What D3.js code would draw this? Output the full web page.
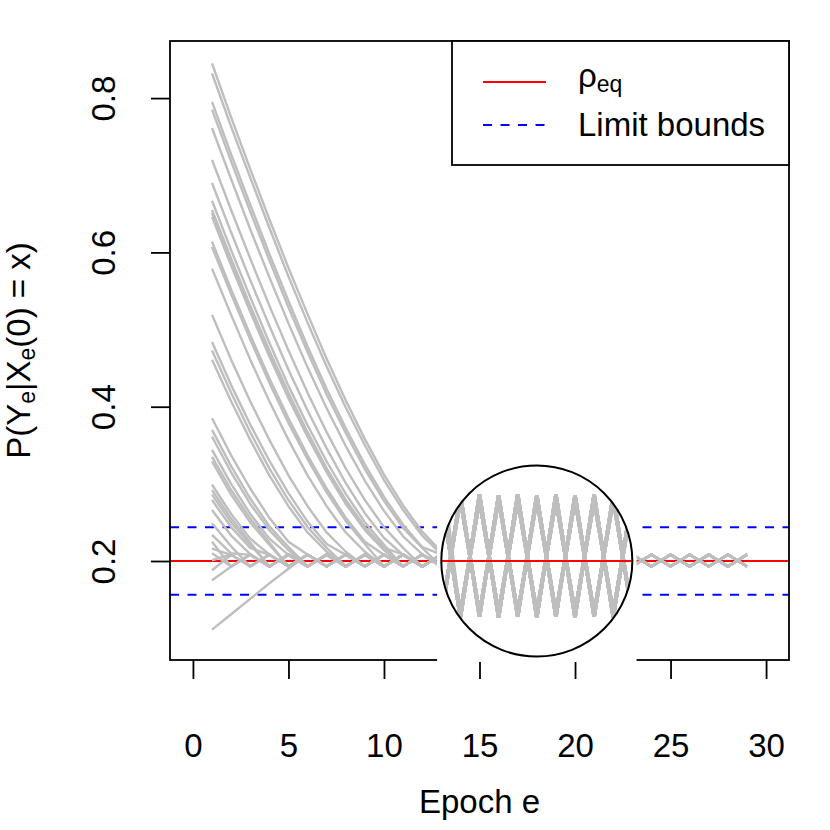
<!DOCTYPE html>
<html>
<head>
<meta charset="utf-8">
<script src="https://d3js.org/d3.v7.min.js"></script>
<style>
  body { margin: 0; background: #fff; }
  text { font-family: "Liberation Sans", Arial, Helvetica, sans-serif; }
</style>
</head>
<body>
<script>
// epochs along the x axis
var epochs = [1,2,3,4,5,6,7,8,9,10,11,12,13,14,15,16,17,18,19,20,21,22,23,24,25,26,27,28,29];

// each curve until it settles near rho_eq (epoch 1 onwards)
var heads = [
  [0.845,0.775,0.708,0.643,0.580,0.520,0.462,0.408,0.358,0.312,0.272,0.238,0.212],
  [0.832,0.763,0.697,0.632,0.569,0.509,0.452,0.399,0.350,0.305,0.266,0.233,0.209],
  [0.795,0.727,0.662,0.598,0.537,0.478,0.423,0.372,0.325,0.283,0.247,0.218],
  [0.785,0.718,0.653,0.590,0.529,0.471,0.416,0.366,0.319,0.278,0.243,0.217],
  [0.761,0.695,0.630,0.568,0.508,0.451,0.398,0.349,0.304,0.265,0.232,0.209],
  [0.720,0.655,0.592,0.531,0.473,0.418,0.367,0.320,0.279,0.244,0.217],
  [0.690,0.626,0.564,0.505,0.448,0.395,0.346,0.301,0.262,0.230,0.208],
  [0.667,0.603,0.542,0.483,0.427,0.376,0.329,0.287,0.250,0.221],
  [0.655,0.592,0.531,0.473,0.418,0.367,0.320,0.279,0.244,0.217],
  [0.651,0.588,0.528,0.470,0.415,0.365,0.319,0.278,0.243,0.217],
  [0.646,0.583,0.523,0.465,0.411,0.361,0.315,0.274,0.240,0.214],
  [0.614,0.552,0.493,0.437,0.385,0.337,0.294,0.256,0.225],
  [0.607,0.546,0.487,0.431,0.379,0.332,0.289,0.252,0.222],
  [0.579,0.519,0.461,0.407,0.357,0.311,0.271,0.237,0.212],
  [0.519,0.461,0.407,0.357,0.311,0.271,0.237,0.212],
  [0.484,0.428,0.377,0.330,0.288,0.251,0.222],
  [0.473,0.418,0.367,0.320,0.279,0.244,0.217],
  [0.461,0.407,0.357,0.311,0.271,0.237,0.212],
  [0.385,0.337,0.294,0.256,0.225],
  [0.370,0.323,0.281,0.245,0.218],
  [0.361,0.315,0.274,0.240,0.214],
  [0.344,0.300,0.261,0.229],
  [0.335,0.292,0.255,0.224],
  [0.329,0.286,0.250,0.221],
  [0.299,0.261,0.229],
  [0.292,0.255,0.224],
  [0.286,0.250,0.221],
  [0.279,0.244,0.217],
  [0.266,0.233,0.209],
  [0.249,0.219],
  [0.234,0.210],
  [0.225],
  [0.216],
  [0.210],
  [0.201],
  [0.188],
  [0.175],
  [0.111,0.131,0.151,0.171,0.190]
];

// which oscillation each curve falls into afterwards
var tailKeys = ["B1","B2","B1","A1","A2","B1","B2","A1","B1","A2","A1","A2","B2","B1","A1","A2","B2","B1","A1",
                "B2","B1","B2","A1","A2","A1","B1","B2","A2","B1","A1","B2","B1","A2","B2","A1","A2","B1","A1"];

// settled oscillations, value per epoch 1..29
var oscA1 = [0.1928,0.2085,0.1928,0.2085,0.1928,0.2085,0.1928,0.2085,0.1928,0.2085,0.1928,0.2085,0.1928,0.2085,0.1928,
             0.2085,0.1928,0.2085,0.1928,0.2085,0.1928,0.2085,0.1928,0.2085,0.1928,0.2085,0.1928,0.2085,0.1928];
var oscA2 = [0.1932,0.2080,0.1932,0.2080,0.1932,0.2080,0.1932,0.2080,0.1932,0.2080,0.1932,0.2080,0.1932,0.2080,0.1932,
             0.2080,0.1932,0.2080,0.1932,0.2080,0.1932,0.2080,0.1932,0.2080,0.1932,0.2080,0.1932,0.2080,0.1932];
var oscB1 = [0.2086,0.1927,0.2086,0.1927,0.2086,0.1927,0.2086,0.1927,0.2086,0.1927,0.2086,0.1927,0.2086,0.1927,0.2086,
             0.1927,0.2086,0.1927,0.2086,0.1927,0.2086,0.1927,0.2086,0.1927,0.2086,0.1927,0.2086,0.1927,0.2086];
var oscB2 = [0.2079,0.1933,0.2079,0.1933,0.2079,0.1933,0.2079,0.1933,0.2079,0.1933,0.2079,0.1933,0.2079,0.1933,0.2079,
             0.1933,0.2079,0.1933,0.2079,0.1933,0.2079,0.1933,0.2079,0.1933,0.2079,0.1933,0.2079,0.1933,0.2079];

var rhoEq = 0.2;
var limitBounds = [0.1563, 0.2437];
var xTicks = [0, 5, 10, 15, 20, 25, 30];
var yTicks = [0.2, 0.4, 0.6, 0.8];

// magnifier: centre epoch, radius in epochs, vertical zoom
var zoomCenter = 18, zoomRadius = 5, zoomFactor = 10;

var tails = {A1: oscA1, A2: oscA2, B1: oscB1, B2: oscB2};
var curves = heads.map(function (h, i) {
  var vals = h.concat(tails[tailKeys[i]].slice(h.length));
  return epochs.map(function (e, j) { return {e: e, v: vals[j]}; });
});

var W = 830, H = 830;
var pL = 170, pR = 789, pT = 41, pB = 660;
var fs = 33;

var x = d3.scaleLinear().domain([-1.2, 31.2]).range([pL, pR]);
var y = d3.scaleLinear().domain([0.0717, 0.874]).range([pB, pT]);

var svg = d3.select("body").append("svg")
    .attr("width", W).attr("height", H);
var defs = svg.append("defs");
defs.append("clipPath").attr("id", "plotClip")
  .append("rect").attr("x", pL).attr("y", pT)
  .attr("width", pR - pL).attr("height", pB - pT);

var cx = x(zoomCenter), cy = y(rhoEq), r = x(zoomCenter + zoomRadius) - cx;
defs.append("clipPath").attr("id", "zoomClip")
  .append("circle").attr("cx", cx).attr("cy", cy).attr("r", r);

var plot = svg.append("g").attr("clip-path", "url(#plotClip)");

// limit bounds and rho_eq
plot.selectAll(".bound").data(limitBounds).enter().append("line")
    .attr("x1", pL).attr("x2", pR)
    .attr("y1", function (d) { return y(d); }).attr("y2", function (d) { return y(d); })
    .style("stroke", "#0000FF").style("stroke-width", 2).style("stroke-dasharray", "9,8.5");
plot.append("line")
    .attr("x1", pL).attr("x2", pR).attr("y1", y(rhoEq)).attr("y2", y(rhoEq))
    .style("stroke", "#FF0000").style("stroke-width", 2);

var line = d3.line().x(function (d) { return x(d.e); }).y(function (d) { return y(d.v); });
plot.selectAll(".curve").data(curves).enter().append("path")
    .attr("d", line)
    .style("fill", "none").style("stroke", "#BEBEBE").style("stroke-width", 2.4)
    .style("stroke-linejoin", "round");

// axes
var xAxis = svg.append("g").attr("transform", "translate(0," + pB + ")")
    .call(d3.axisBottom(x).tickValues(xTicks).tickSize(19).tickFormat(d3.format("d")));
xAxis.select(".domain").remove();
xAxis.selectAll("line").style("stroke", "#000").style("stroke-width", 1.8);
xAxis.selectAll("text").attr("y", 97).attr("dy", 0)
    .style("font-size", "33px").style("fill", "#000");

var yAxis = svg.append("g").attr("transform", "translate(" + pL + ",0)")
    .call(d3.axisLeft(y).tickValues(yTicks).tickSize(19).tickFormat(d3.format(".1f")));
yAxis.select(".domain").remove();
yAxis.selectAll("line").style("stroke", "#000").style("stroke-width", 1.8);
yAxis.selectAll("text").attr("x", 0).attr("dy", 0)
    .attr("transform", "translate(-55,0) rotate(-90)")
    .style("text-anchor", "middle").style("font-size", "33px").style("fill", "#000");

svg.append("rect").attr("x", pL).attr("y", pT)
    .attr("width", pR - pL).attr("height", pB - pT)
    .style("fill", "none").style("stroke", "#000").style("stroke-width", 1.8);

// titles
svg.append("text").attr("x", (pL + pR) / 2).attr("y", 813)
    .attr("text-anchor", "middle").style("font-size", fs + "px").text("Epoch e");

var yl = svg.append("text")
    .attr("transform", "translate(30," + (pT + pB) / 2 + ") rotate(-90)")
    .attr("text-anchor", "middle").style("font-size", fs + "px");
yl.append("tspan").text("P(Y");
yl.append("tspan").attr("dy", 5).style("font-size", "23px").text("e");
yl.append("tspan").attr("dy", -5).text("|X");
yl.append("tspan").attr("dy", 5).style("font-size", "23px").text("e");
yl.append("tspan").attr("dy", -5).text("(0) = x)");

// magnifier: blank out the area, then redraw the curves stretched around rho_eq
svg.append("rect")
    .attr("x", x(zoomCenter - zoomRadius - 0.22)).attr("y", cy - r - 4)
    .attr("width", x(zoomCenter + zoomRadius + 0.22) - x(zoomCenter - zoomRadius - 0.22))
    .attr("height", pB + 2 - (cy - r - 4))
    .style("fill", "#fff");
svg.append("circle").attr("cx", cx).attr("cy", cy).attr("r", r).style("fill", "#fff");

var zoomed = svg.append("g").attr("clip-path", "url(#zoomClip)");
var zline = d3.line().x(function (d) { return x(d.e); })
    .y(function (d) { return y(rhoEq + (d.v - rhoEq) * zoomFactor); });
zoomed.selectAll(".zcurve").data(curves).enter().append("path")
    .attr("d", zline)
    .style("fill", "none").style("stroke", "#BEBEBE").style("stroke-width", 3.6)
    .style("stroke-linejoin", "miter");
zoomed.append("line")
    .attr("x1", cx - r).attr("x2", cx + r).attr("y1", cy).attr("y2", cy)
    .style("stroke", "#FF0000").style("stroke-width", 2);
svg.append("circle").attr("cx", cx).attr("cy", cy).attr("r", r)
    .style("fill", "none").style("stroke", "#000").style("stroke-width", 2);

// legend
var lg = svg.append("g");
lg.append("rect").attr("x", 452).attr("y", pT).attr("width", pR - 452).attr("height", 124)
    .style("fill", "#fff").style("stroke", "#000").style("stroke-width", 1.8);
lg.append("line").attr("x1", 483).attr("x2", 546).attr("y1", 82).attr("y2", 82)
    .style("stroke", "#FF0000").style("stroke-width", 2);
lg.append("line").attr("x1", 483).attr("x2", 546).attr("y1", 125).attr("y2", 125)
    .style("stroke", "#0000FF").style("stroke-width", 2).style("stroke-dasharray", "9,8.5");
var t1 = lg.append("text").attr("x", 578).attr("y", 87).style("font-size", fs + "px");
t1.append("tspan").text("\u03C1");
t1.append("tspan").attr("dy", 5).style("font-size", "23px").text("eq");
lg.append("text").attr("x", 578).attr("y", 136).style("font-size", fs + "px").text("Limit bounds");
</script>
</body>
</html>
